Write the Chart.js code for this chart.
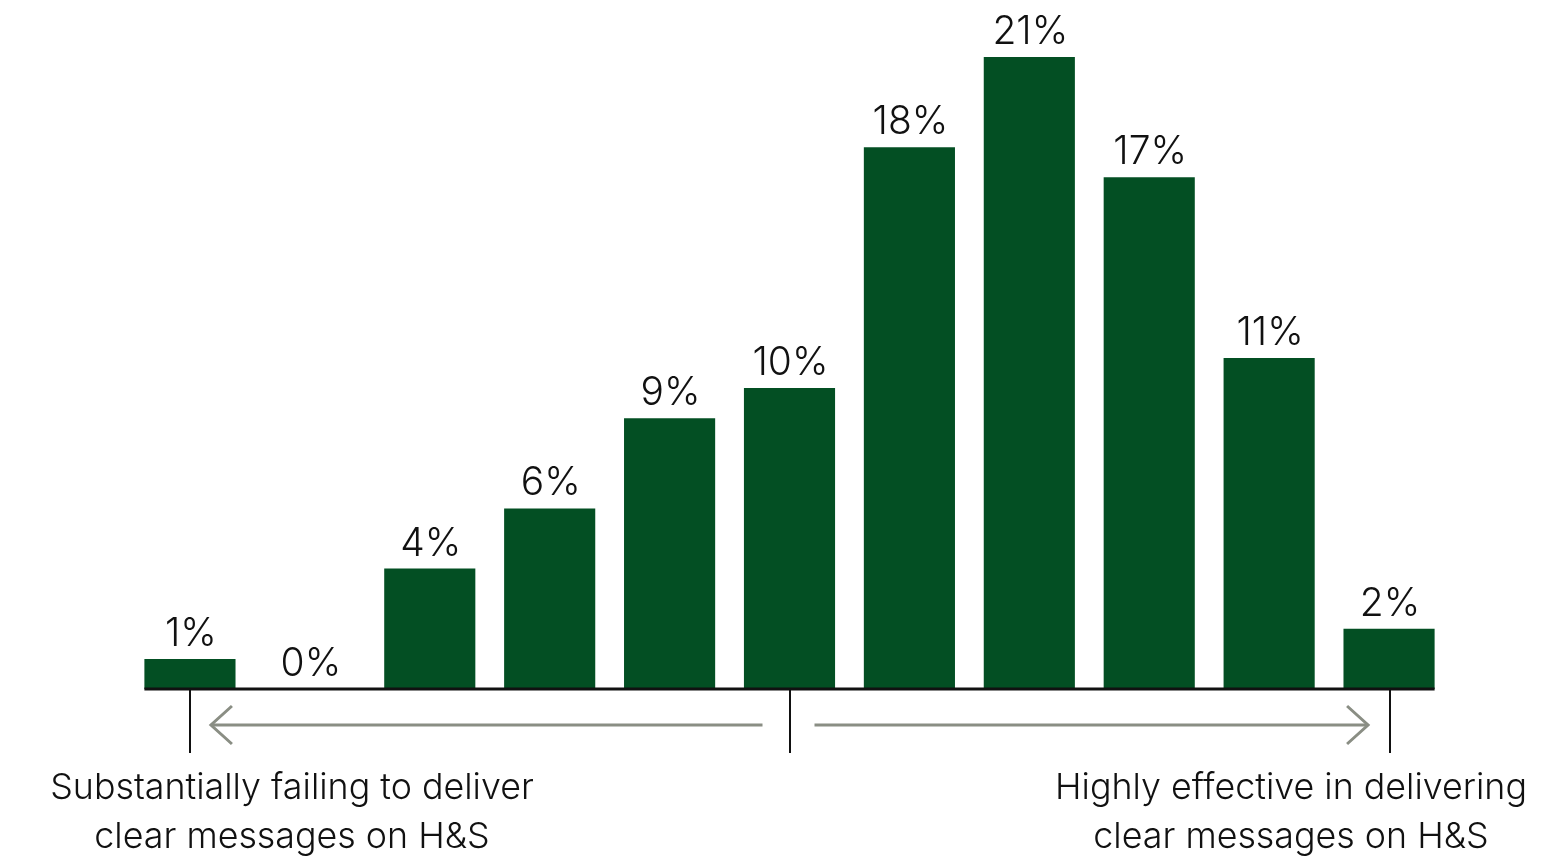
<!DOCTYPE html>
<html>
<head>
<meta charset="utf-8">
<script src="https://cdn.jsdelivr.net/npm/chart.js"></script>
<style>
  html, body { margin: 0; padding: 0; background: #ffffff; }
  canvas { display: block; }
</style>
</head>
<body>
<canvas id="chart" width="1552" height="856"></canvas>
<script>
// Rating scale 1..11, share of respondents (%)
const categories = ['1', '2', '3', '4', '5', '6', '7', '8', '9', '10', '11'];
const shares = [1, 0, 4, 6, 9, 10, 18, 21, 17, 11, 2];
const lowEndLabel = ['Substantially failing to deliver', 'clear messages on H&S'];
const highEndLabel = ['Highly effective in delivering', 'clear messages on H&S'];

const FONT = 'Inter, "Noto Sans", sans-serif';
const BAR_GREEN = '#034f23';
const ARROW_GREY = '#8a8e84';

// Percent labels above each bar
const valueLabels = {
  id: 'valueLabels',
  afterDatasetsDraw(chart) {
    const ctx = chart.ctx;
    const meta = chart.getDatasetMeta(0);
    ctx.save();
    ctx.font = '300 39px ' + FONT;
    ctx.fillStyle = '#111111';
    ctx.textAlign = 'center';
    ctx.textBaseline = 'alphabetic';
    meta.data.forEach((bar, i) => {
      ctx.fillText(shares[i] + '%', bar.x + 1, bar.y - 13);
    });
    ctx.restore();
  }
};

// Baseline, end ticks, direction arrows and scale-end captions
const scaleAnnotations = {
  id: 'scaleAnnotations',
  afterDraw(chart) {
    const ctx = chart.ctx;
    const meta = chart.getDatasetMeta(0);
    const xs = chart.scales.x;
    const base = chart.scales.y.getPixelForValue(0);
    const first = meta.data[0];
    const last = meta.data[meta.data.length - 1];
    const tLeft = xs.getPixelForValue(0);
    const tMid = xs.getPixelForValue(5);
    const tRight = xs.getPixelForValue(10) + 1;

    ctx.save();
    // baseline
    ctx.strokeStyle = '#111111';
    ctx.lineWidth = 3;
    ctx.beginPath();
    ctx.moveTo(first.x - first.width / 2, base);
    ctx.lineTo(last.x + last.width / 2, base);
    ctx.stroke();

    // ticks
    ctx.lineWidth = 2;
    [tLeft, tMid, tRight].forEach(x => {
      ctx.beginPath();
      ctx.moveTo(Math.round(x), base);
      ctx.lineTo(Math.round(x), base + 64);
      ctx.stroke();
    });

    // arrows
    const ay = base + 36;
    ctx.strokeStyle = ARROW_GREY;
    ctx.lineWidth = 3;
    ctx.lineCap = 'butt';
    const lStart = tLeft + 21, lEnd = tMid - 27;
    ctx.beginPath();
    ctx.moveTo(lEnd, ay);
    ctx.lineTo(lStart, ay);
    ctx.stroke();
    ctx.beginPath();
    ctx.moveTo(lStart + 21, ay - 19);
    ctx.lineTo(lStart, ay);
    ctx.lineTo(lStart + 21, ay + 19);
    ctx.stroke();

    const rStart = tMid + 25, rEnd = tRight - 22;
    ctx.beginPath();
    ctx.moveTo(rStart, ay);
    ctx.lineTo(rEnd, ay);
    ctx.stroke();
    ctx.beginPath();
    ctx.moveTo(rEnd - 21, ay - 19);
    ctx.lineTo(rEnd, ay);
    ctx.lineTo(rEnd - 21, ay + 19);
    ctx.stroke();

    // captions
    ctx.fillStyle = '#111111';
    ctx.font = '300 35.8px ' + FONT;
    ctx.textAlign = 'center';
    ctx.textBaseline = 'alphabetic';
    lowEndLabel.forEach((line, i) => ctx.fillText(line, 292, base + 110 + i * 49));
    highEndLabel.forEach((line, i) => ctx.fillText(line, 1291, base + 110 + i * 49));
    ctx.restore();
  }
};

new Chart(document.getElementById('chart'), {
  type: 'bar',
  data: {
    labels: categories,
    datasets: [{
      data: shares,
      backgroundColor: BAR_GREEN,
      borderWidth: 0,
      barPercentage: 0.76,
      categoryPercentage: 1.0
    }]
  },
  options: {
    responsive: false,
    animation: false,
    events: [],
    layout: { padding: { left: 130, right: 103, top: 1, bottom: 167 } },
    plugins: {
      legend: { display: false },
      tooltip: { enabled: false },
      title: { display: false }
    },
    scales: {
      x: { display: false, offset: true },
      y: { display: false, min: 0, max: 22.86 }
    }
  },
  plugins: [valueLabels, scaleAnnotations]
});
</script>
</body>
</html>
